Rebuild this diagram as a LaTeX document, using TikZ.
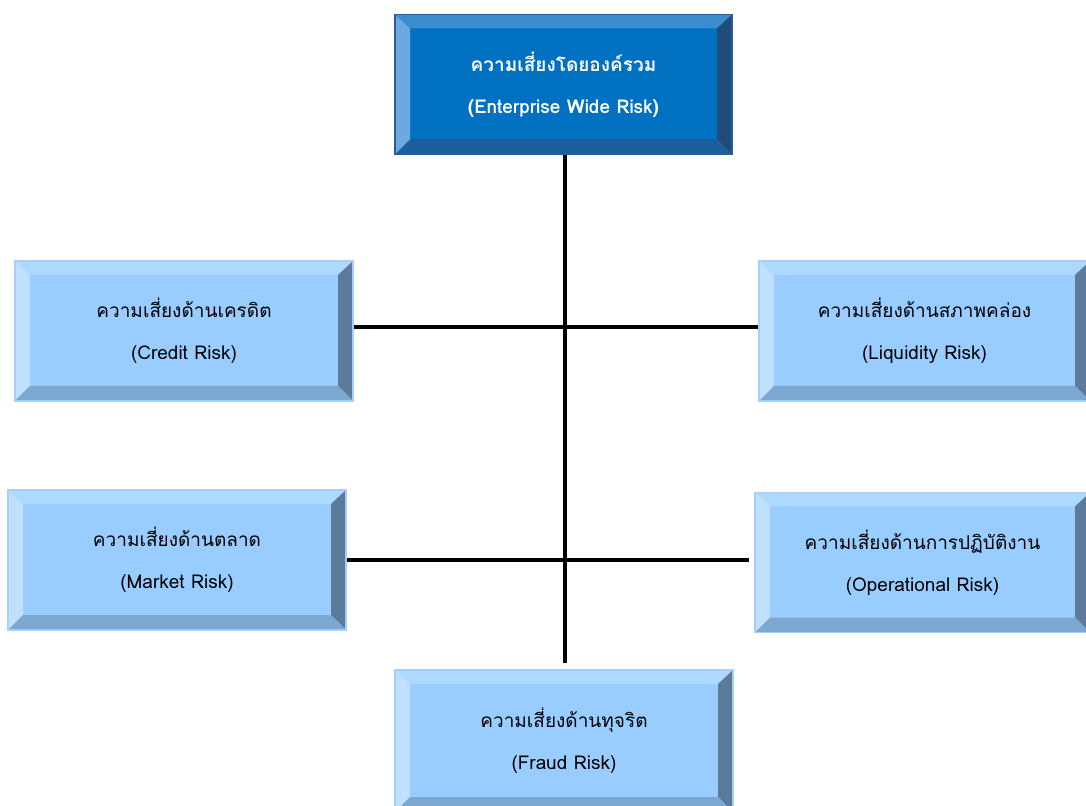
\documentclass[tikz,border=0pt]{standalone}
\usepackage{fontspec}
\newfontfamily\thaifont[Script=Thai]{Loma}
\usepackage{tikz}

\definecolor{mainface}{HTML}{0070C0}
\definecolor{maintop}{HTML}{3A8DCF}
\definecolor{mainleft}{HTML}{6AAAE0}
\definecolor{mainright}{HTML}{1F4D78}
\definecolor{mainbottom}{HTML}{1A5F9E}
\definecolor{mainline}{HTML}{2E5C9A}
\definecolor{riskface}{HTML}{99CCFF}
\definecolor{risktop}{HTML}{ADD8FF}
\definecolor{riskleft}{HTML}{C0E0FF}
\definecolor{riskright}{HTML}{5C7A99}
\definecolor{riskbottom}{HTML}{7BA7D0}
\definecolor{riskline}{HTML}{A5CFFA}

\newcommand{\bevelfill}[4]{%
  \coordinate (nw) at (path picture bounding box.north west);
  \coordinate (ne) at (path picture bounding box.north east);
  \coordinate (sw) at (path picture bounding box.south west);
  \coordinate (se) at (path picture bounding box.south east);
  \coordinate (inw) at ([shift={(7.5pt,-7pt)}]nw);
  \coordinate (ine) at ([shift={(-7.5pt,-7pt)}]ne);
  \coordinate (isw) at ([shift={(7.5pt,7.5pt)}]sw);
  \coordinate (ise) at ([shift={(-7.5pt,7.5pt)}]se);
  \fill[#1] (nw) -- (ne) -- (ine) -- (inw) -- cycle;
  \fill[#2] (nw) -- (inw) -- (isw) -- (sw) -- cycle;
  \fill[#3] (ne) -- (se) -- (ise) -- (ine) -- cycle;
  \fill[#4] (sw) -- (se) -- (ise) -- (isw) -- cycle;}

\tikzset{
  riskbox/.style={rectangle, draw=riskline, line width=0.6pt, fill=riskface,
    minimum height=70pt, inner sep=0pt, align=center,
    font=\thaifont\fontsize{9.5}{21}\selectfont,
    path picture={\bevelfill{risktop}{riskleft}{riskright}{riskbottom}}},
  mainbox/.style={riskbox, draw=mainline, fill=mainface, text=white,
    font=\thaifont\bfseries\fontsize{9.5}{21}\selectfont,
    path picture={\bevelfill{maintop}{mainleft}{mainright}{mainbottom}}},
  link/.style={line width=2pt, black}
}

\begin{document}
\begin{tikzpicture}[x=0.5pt,y=-0.5pt]
\useasboundingbox (0,0) rectangle (1086,806);
\node[mainbox, minimum width=168.5pt] (ewr) at (563.5,84.5) {ความเสี่ยงโดยองค์รวม\\(Enterprise Wide Risk)};
\node[riskbox, minimum width=169pt] (credit) at (184,331) {ความเสี่ยงด้านเครดิต\\(Credit Risk)};
\node[riskbox, minimum width=165.5pt] (liquidity) at (924.5,331) {ความเสี่ยงด้านสภาพคล่อง\\(Liquidity Risk)};
\node[riskbox, minimum width=169pt] (market) at (177,560) {ความเสี่ยงด้านตลาด\\(Market Risk)};
\node[riskbox, minimum width=167.5pt] (oper) at (922.5,562.5) {ความเสี่ยงด้านการปฏิบัติงาน\\(Operational Risk)};
\node[riskbox, minimum width=169pt, minimum height=71pt] (fraud) at (564,741) {ความเสี่ยงด้านทุจริต\\(Fraud Risk)};
\coordinate (vend) at (565,663);
\draw[link] (ewr.south -| vend) -- (vend);
\draw[link] ([yshift=2pt]credit.east) -- ([yshift=2pt]liquidity.west);
\draw[link] (market.east) -- ([xshift=-2.5pt]market.east -| oper.west);
\end{tikzpicture}
\end{document}
